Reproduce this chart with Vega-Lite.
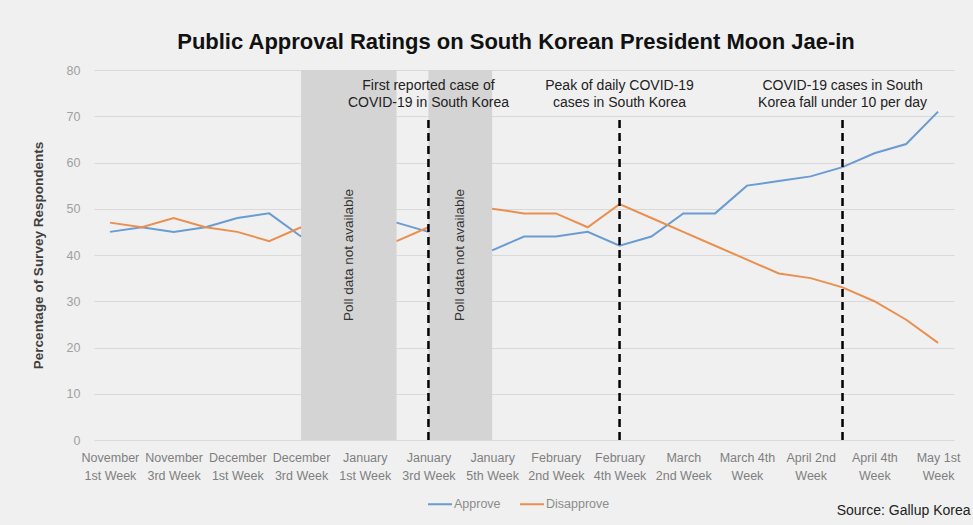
{
  "$schema": "https://vega.github.io/schema/vega-lite/v6.json",
  "width": 860,
  "height": 370,
  "autosize": {"type": "none"},
  "padding": {"left": 94, "top": 70, "right": 19, "bottom": 85},
  "background": "#f0f0f0",
  "title": {
    "text": "Public Approval Ratings on South Korean President Moon Jae-in",
    "fontSize": 22,
    "fontWeight": "bold",
    "color": "#111111",
    "anchor": "middle",
    "dx": -8,
    "dy": 20,
    "offset": 13,
    "baseline": "alphabetic"
  },
  "datasets": {
    "polls": [
      {"n": 0, "week": "November 1st Week", "Approve": 45, "Disapprove": 47},
      {"n": 1, "week": "November 2nd Week", "Approve": 46, "Disapprove": 46},
      {"n": 2, "week": "November 3rd Week", "Approve": 45, "Disapprove": 48},
      {"n": 3, "week": "November 4th Week", "Approve": 46, "Disapprove": 46},
      {"n": 4, "week": "December 1st Week", "Approve": 48, "Disapprove": 45},
      {"n": 5, "week": "December 2nd Week", "Approve": 49, "Disapprove": 43},
      {"n": 6, "week": "December 3rd Week", "Approve": 44, "Disapprove": 46},
      {"n": 7, "week": "December 4th Week", "Approve": null, "Disapprove": null},
      {"n": 8, "week": "January 1st Week", "Approve": null, "Disapprove": null},
      {"n": 9, "week": "January 2nd Week", "Approve": 47, "Disapprove": 43},
      {"n": 10, "week": "January 3rd Week", "Approve": 45, "Disapprove": 46},
      {"n": 11, "week": "January 4th Week", "Approve": null, "Disapprove": null},
      {"n": 12, "week": "January 5th Week", "Approve": 41, "Disapprove": 50},
      {"n": 13, "week": "February 1st Week", "Approve": 44, "Disapprove": 49},
      {"n": 14, "week": "February 2nd Week", "Approve": 44, "Disapprove": 49},
      {"n": 15, "week": "February 3rd Week", "Approve": 45, "Disapprove": 46},
      {"n": 16, "week": "February 4th Week", "Approve": 42, "Disapprove": 51},
      {"n": 17, "week": "March 1st Week", "Approve": 44, "Disapprove": 48},
      {"n": 18, "week": "March 2nd Week", "Approve": 49, "Disapprove": 45},
      {"n": 19, "week": "March 3rd Week", "Approve": 49, "Disapprove": 42},
      {"n": 20, "week": "March 4th Week", "Approve": 55, "Disapprove": 39},
      {"n": 21, "week": "April 1st Week", "Approve": 56, "Disapprove": 36},
      {"n": 22, "week": "April 2nd Week", "Approve": 57, "Disapprove": 35},
      {"n": 23, "week": "April 3rd Week", "Approve": 59, "Disapprove": 33},
      {"n": 24, "week": "April 4th Week", "Approve": 62, "Disapprove": 30},
      {"n": 25, "week": "April 5th Week", "Approve": 64, "Disapprove": 26},
      {"n": 26, "week": "May 1st Week", "Approve": 71, "Disapprove": 21}
    ],
    "gaps": [
      {"from": 6, "to": 9},
      {"from": 10, "to": 12}
    ],
    "gapNotes": [
      {"n": 7.5, "note": "Poll data not available"},
      {"n": 11, "note": "Poll data not available"}
    ],
    "events": [
      {"n": 10, "note": ["First reported case of", "COVID-19 in South Korea"]},
      {"n": 16, "note": ["Peak of daily COVID-19", "cases in South Korea"]},
      {"n": 23, "note": ["COVID-19 cases in South", "Korea fall under 10 per day"]}
    ]
  },
  "layer": [
    {
      "data": {"name": "gaps"},
      "mark": {"type": "rect", "color": "#d4d4d4"},
      "encoding": {
        "x": {"field": "from", "type": "quantitative"},
        "x2": {"field": "to"},
        "y": {"datum": 0},
        "y2": {"datum": 80}
      }
    },
    {
      "data": {"name": "gapNotes"},
      "mark": {"type": "text", "angle": 270, "fontSize": 13.5, "color": "#333333"},
      "encoding": {
        "x": {"field": "n", "type": "quantitative"},
        "y": {"datum": 40},
        "text": {"field": "note"}
      }
    },
    {
      "data": {"name": "polls"},
      "transform": [{"fold": ["Approve", "Disapprove"], "as": ["series", "pct"]}],
      "mark": {"type": "line", "strokeWidth": 2, "invalid": "break-paths-show-domains"},
      "encoding": {
        "x": {
          "field": "n",
          "type": "quantitative",
          "title": "Source: Gallup Korea",
          "scale": {"domain": [-0.5, 26.5], "nice": false, "zero": false},
          "axis": {
            "values": [0, 2, 4, 6, 8, 10, 12, 14, 16, 18, 20, 22, 24, 26],
            "labelExpr": "split(['November|1st Week','November|3rd Week','December|1st Week','December|3rd Week','January|1st Week','January|3rd Week','January|5th Week','February|2nd Week','February|4th Week','March|2nd Week','March 4th|Week','April 2nd|Week','April 4th|Week','May 1st|Week'][datum.value / 2], '|')",
            "grid": false,
            "domain": false,
            "ticks": false,
            "labelColor": "#7f7f7f",
            "labelFontSize": 12.5,
            "labelLineHeight": 18,
            "labelPadding": 11,
            "labelOverlap": false,
            "labelFlush": false,
            "labelBound": false,
            "titleX": 876,
            "titleY": 70,
            "titleAlign": "right",
            "titleBaseline": "middle",
            "titleFontSize": 14,
            "titleFontWeight": "normal",
            "titleColor": "#222222"
          }
        },
        "y": {
          "field": "pct",
          "type": "quantitative",
          "title": "Percentage of Survey Respondents",
          "scale": {"domain": [0, 80]},
          "axis": {
            "values": [0, 10, 20, 30, 40, 50, 60, 70, 80],
            "grid": true,
            "gridColor": "#d9d9d9",
            "domain": false,
            "ticks": false,
            "labelColor": "#a0a0a0",
            "labelFontSize": 12.5,
            "labelPadding": 14,
            "titleFontSize": 13.5,
            "titleFontWeight": "bold",
            "titleColor": "#404040",
            "titlePadding": 21
          }
        },
        "color": {
          "field": "series",
          "type": "nominal",
          "scale": {"domain": ["Approve", "Disapprove"], "range": ["#6a9bd1", "#ea8f50"]},
          "legend": {
            "orient": "none",
            "legendX": 333,
            "legendY": 421,
            "direction": "horizontal",
            "title": null,
            "symbolType": "stroke",
            "symbolSize": 576,
            "symbolStrokeWidth": 2,
            "labelFontSize": 12.5,
            "labelColor": "#8c8c8c",
            "labelOffset": 1,
            "columnPadding": 15
          }
        }
      }
    },
    {
      "data": {"name": "events"},
      "mark": {"type": "rule", "color": "#000000", "strokeWidth": 2.5, "strokeDash": [8, 5]},
      "encoding": {
        "x": {"field": "n", "type": "quantitative"},
        "y": {"datum": 0},
        "y2": {"datum": 69.5}
      }
    },
    {
      "data": {"name": "events"},
      "mark": {"type": "text", "fontSize": 14, "lineHeight": 17, "color": "#222222"},
      "encoding": {
        "x": {"field": "n", "type": "quantitative"},
        "y": {"datum": 76.5},
        "text": {"field": "note"}
      }
    }
  ],
  "config": {
    "font": "Liberation Sans",
    "view": {"stroke": null}
  }
}
